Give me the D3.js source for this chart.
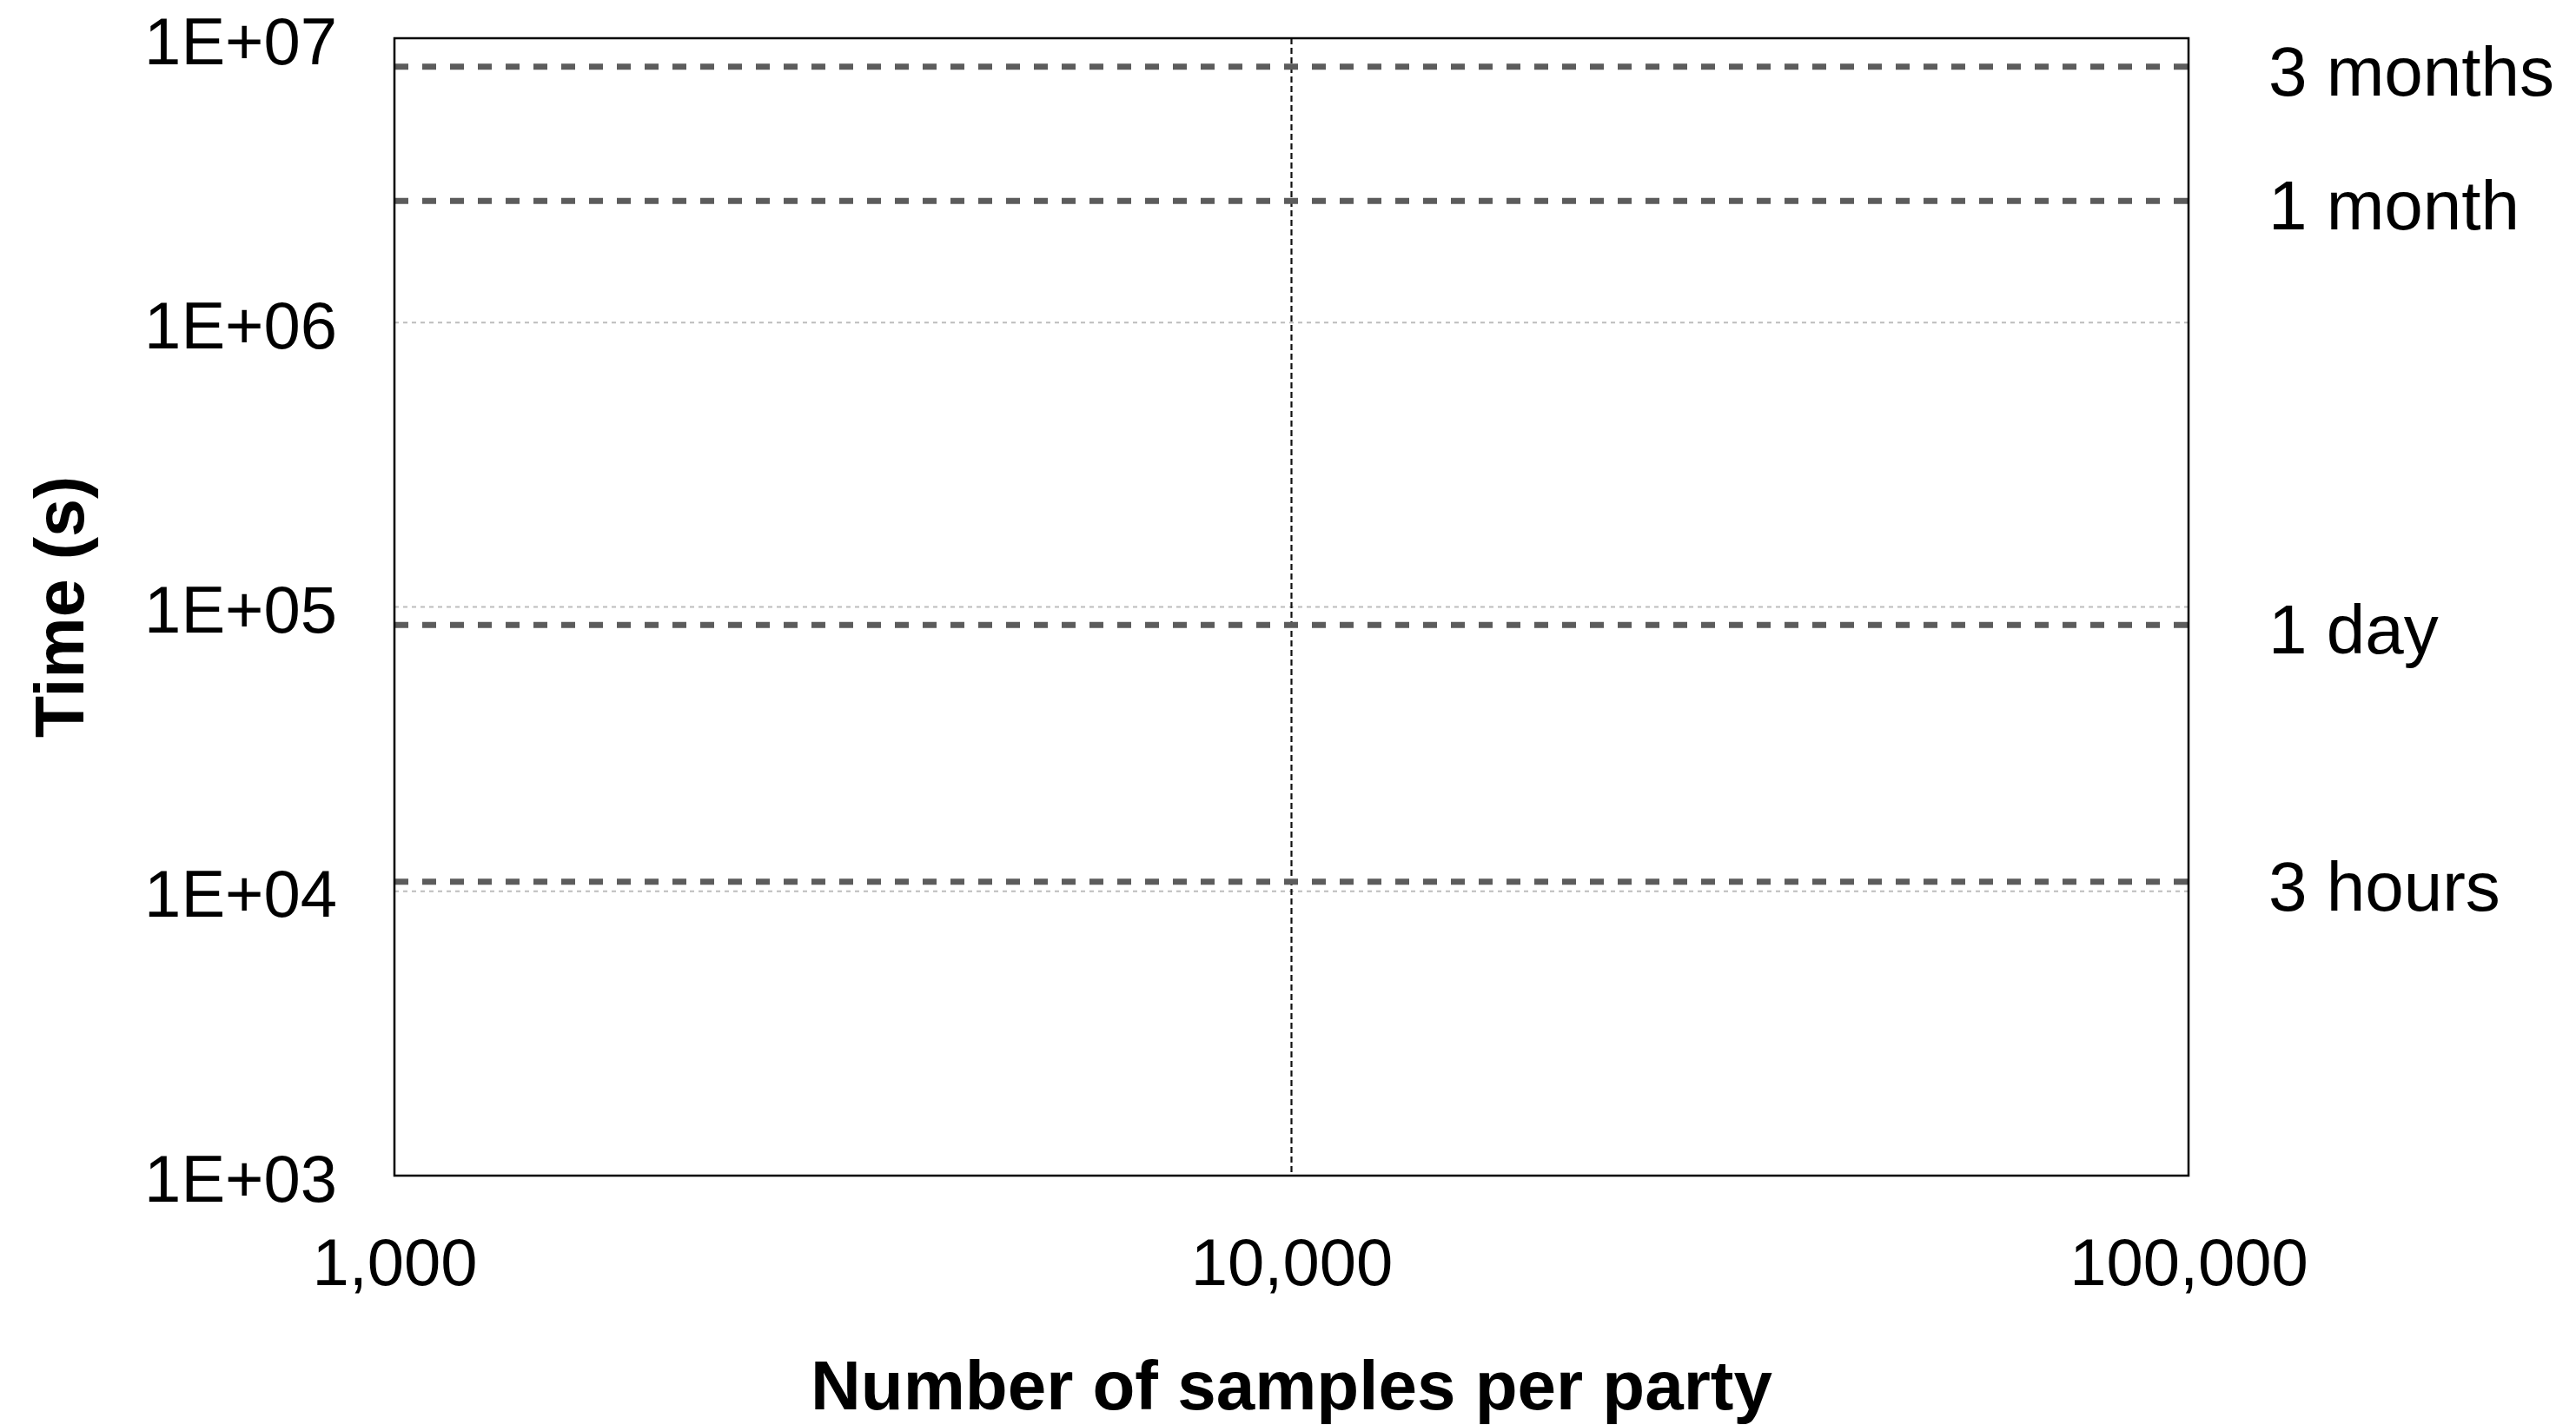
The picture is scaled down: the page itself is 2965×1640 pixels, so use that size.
<!DOCTYPE html>
<html>
<head>
<meta charset="utf-8">
<script src="https://cdn.jsdelivr.net/npm/d3@7"></script>
<style>
  html, body { margin: 0; padding: 0; background: #fff; }
  svg { display: block; }
  text { font-family: "Liberation Sans", Arial, Helvetica, sans-serif; fill: #000; }
</style>
</head>
<body>
<svg id="chart" width="2965" height="1640"></svg>
<script>
// Axis ticks
const xTicks = [1000, 10000, 100000];
const yTicks = [1e3, 1e4, 1e5, 1e6, 1e7];

// Reference durations, in seconds
const refLabels = ["3 hours", "1 day", "1 month", "3 months"];
const refSeconds = [10800, 86400, 2678400, 7948800];

const W = 2965, H = 1640;
const margin = { left: 454, right: W - 2519, top: 44, bottom: H - 1353 };

const svg = d3.select("#chart");

const x = d3.scaleLog().domain([1000, 100000]).range([margin.left, W - margin.right]);
const y = d3.scaleLog().domain([1e3, 1e7]).range([H - margin.bottom, margin.top]);

const x0 = x.range()[0], x1 = x.range()[1];
const y0 = y.range()[0], y1 = y.range()[1];

// Horizontal grid lines at each decade (inside the frame)
svg.append("g")
  .selectAll("line")
  .data(yTicks.slice(1, -1))
  .join("line")
  .attr("x1", x0).attr("x2", x1)
  .attr("y1", d => y(d)).attr("y2", d => y(d))
  .attr("stroke", "#bdbdbd")
  .attr("stroke-width", 2)
  .attr("stroke-dasharray", "5,5");

// Vertical grid line(s)
svg.append("g")
  .selectAll("line")
  .data(xTicks.slice(1, -1))
  .join("line")
  .attr("x1", d => x(d)).attr("x2", d => x(d))
  .attr("y1", y1).attr("y2", y0)
  .attr("stroke", "#111")
  .attr("stroke-width", 2.2)
  .attr("stroke-dasharray", "7,4");

// Reference duration lines
svg.append("g")
  .selectAll("line")
  .data(refSeconds)
  .join("line")
  .attr("x1", x0).attr("x2", x1)
  .attr("y1", d => y(d)).attr("y2", d => y(d))
  .attr("stroke", "#5c5c5c")
  .attr("stroke-width", 7)
  .attr("stroke-dasharray", "16,16");

// Frame
svg.append("rect")
  .attr("x", x0).attr("y", y1)
  .attr("width", x1 - x0).attr("height", y0 - y1)
  .attr("fill", "none")
  .attr("stroke", "#000")
  .attr("stroke-width", 2.5);

// X axis
const xAxis = d3.axisBottom(x)
  .tickValues(xTicks)
  .tickFormat(d3.format(","))
  .tickSize(0)
  .tickPadding(0);
const gx = svg.append("g").attr("transform", `translate(0,${y0})`).call(xAxis);
gx.select(".domain").remove();
gx.selectAll("text")
  .attr("y", 126).attr("dy", null)
  .style("font-size", "76px")
  .style("font-family", "'Liberation Sans', Arial, sans-serif")
  .attr("fill", "#000");

// Y axis
const yAxis = d3.axisLeft(y)
  .tickValues(yTicks)
  .tickFormat(d => "1E+" + String(Math.round(Math.log10(d))).padStart(2, "0"))
  .tickSize(0)
  .tickPadding(0);
const gy = svg.append("g").attr("transform", `translate(${x0},0)`).call(yAxis);
gy.select(".domain").remove();
gy.selectAll("text")
  .attr("x", -66).attr("dy", null).attr("y", 29)
  .style("font-size", "76px")
  .style("font-family", "'Liberation Sans', Arial, sans-serif")
  .attr("fill", "#000");

// Duration labels on the right
svg.append("g")
  .selectAll("text")
  .data(refSeconds)
  .join("text")
  .attr("x", 2611)
  .attr("y", d => y(d) + 33)
  .style("font-size", "80px")
  .text((d, i) => refLabels[i]);

// Axis titles
svg.append("text")
  .attr("x", (x0 + x1) / 2)
  .attr("y", 1622)
  .attr("text-anchor", "middle")
  .style("font-size", "80px")
  .style("font-weight", "bold")
  .text("Number of samples per party");

svg.append("text")
  .attr("transform", `translate(96,${(y0 + y1) / 2}) rotate(-90)`)
  .attr("text-anchor", "middle")
  .style("font-size", "79px")
  .style("font-weight", "bold")
  .text("Time (s)");
</script>
</body>
</html>
